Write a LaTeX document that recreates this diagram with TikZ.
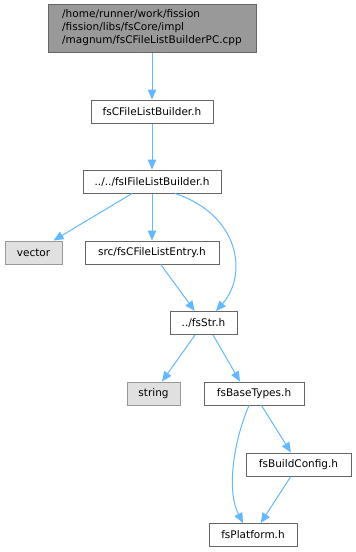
\documentclass[tikz,border=0pt]{standalone}
\usepackage{fontspec}
\setmainfont{DejaVu Sans}
\usetikzlibrary{arrows.meta,calc}
\definecolor{edgeblue}{HTML}{63B8FF}
\definecolor{bordergray}{HTML}{666666}
\definecolor{rootfill}{HTML}{999999}
\definecolor{extfill}{HTML}{E0E0E0}
\definecolor{extborder}{HTML}{999999}
\begin{document}
\begin{tikzpicture}[x=1pt,y=-1pt,
  box/.style={draw=bordergray, line width=1pt, fill=white, inner sep=0pt,
    minimum height=23pt, font=\fontsize{10.5}{13}\selectfont},
  rootbox/.style={box, fill=rootfill, align=left},
  extbox/.style={box, fill=extfill, draw=extborder},
  edge/.style={draw=edgeblue, line width=1pt, -{Triangle[length=10pt,width=8.5pt]}}]
\useasboundingbox (0,0) rectangle (356,552);
\fill[white] (0,0) rectangle (356,552);

\node[rootbox, minimum width=208pt, minimum height=48pt] (root) at (152,28)
  {/home/runner/work/fission\\/fission/libs/fsCore/impl\\/magnum/fsCFileListBuilderPC.cpp};
\node[box, minimum width=122pt] (b) at (152,111.5) {fsCFileListBuilder.h};
\node[box, minimum width=138pt] (i) at (152,181.5) {../../fsIFileListBuilder.h};
\node[extbox, minimum width=57pt] (vector) at (33.5,252.5) {vector};
\node[box, minimum width=134pt] (src) at (152,252.5) {src/fsCFileListEntry.h};
\node[box, minimum width=67pt] (str) at (203.5,323) {../fsStr.h};
\node[extbox, minimum width=53pt] (string) at (153.5,393.5) {string};
\node[box, minimum width=100pt] (base) at (254,393.5) {fsBaseTypes.h};
\node[box, minimum width=105pt] (cfg) at (298.5,464.5) {fsBuildConfig.h};
\node[box, minimum width=88pt] (plat) at (253,535) {fsPlatform.h};

\draw[edge] (root) -- (b);
\draw[edge] (b) -- (i);
\draw[edge] (i) -- (vector);
\draw[edge] (i) -- (src);
\draw[edge] ($(i.south)+(23,0)$) .. controls (240,215) and (248,275) .. ($(str.north)+(12.5,0)$);
\draw[edge] (src) -- (str);
\draw[edge] (str) -- (string);
\draw[edge] ($(str.south)+(9.5,0)$) -- ($(base.north)+(-14,0)$);
\draw[edge] ($(base.south)+(-5,0)$) .. controls (234,440) and (226,490) .. ($(plat.north)+(-10,0)$);
\draw[edge] (base) -- (cfg);
\draw[edge] (cfg) -- (plat);
\end{tikzpicture}
\end{document}
